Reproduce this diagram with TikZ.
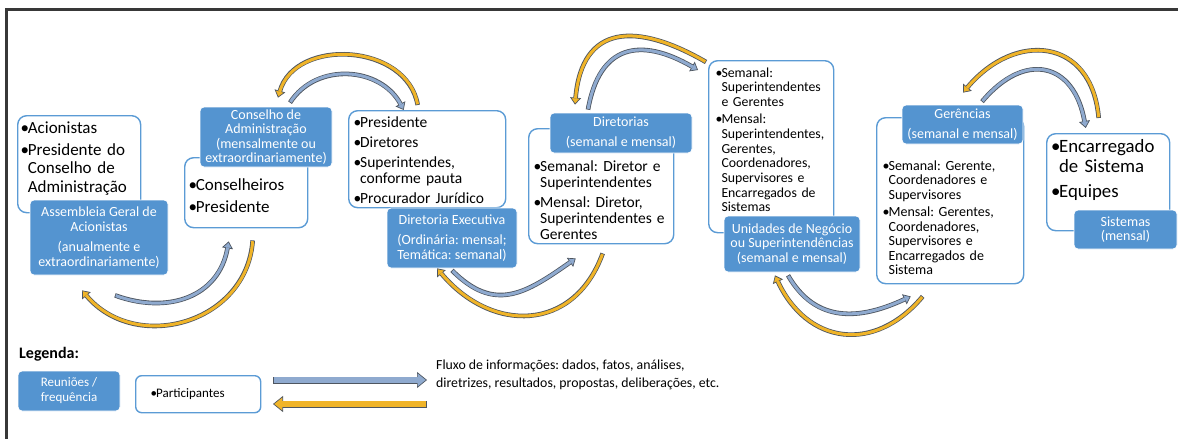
\documentclass[tikz,border=0pt]{standalone}
\usepackage{fontspec}
\setmainfont{Carlito}
\usetikzlibrary{arrows.meta}
\frenchspacing

% one bullet item with its text hanging under the first word
\newcommand\point[1]{\hangindent=0.42em\hangafter=1\noindent\makebox[0.42em][l]{\textbullet}#1\par}

% curved flow arrow: dark edge first, then the colour inside it
\newcommand\flowarc[2]{%
  \draw[line width=4.6pt, arrowEdge, -{Triangle[width=11pt,length=7pt,line width=0.7pt,fill=#1]}] #2;
  \draw[line width=3pt, draw=#1, shorten <=0.8pt, shorten >=6.2pt] #2;
}
% straight (wider) flow arrow for the key
\newcommand\flowbar[2]{%
  \draw[line width=7pt, arrowEdge, -{Triangle[width=16pt,length=10pt,line width=0.7pt,fill=#1]}] #2;
  \draw[line width=5.6pt, draw=#1, shorten <=0.7pt, shorten >=9.2pt] #2;
}

\tikzset{
  meeting/.style={rectangle, rounded corners=4pt, fill=meetColour, draw=white, line width=0.75pt,
    text=white, align=center, inner sep=0pt, font=\fontsize{14}{14.5}\selectfont},
  members/.style={rectangle, rounded corners=9pt, draw=memberEdge, line width=1.4pt, fill=white,
    anchor=north west, inner sep=0pt},
  itemlist/.style n args={4}{anchor=base west, inner sep=0pt, text width=#1, align=left,
    font=\fontsize{#2}{#3}\selectfont, execute at begin node={\setlength{\parskip}{#4}}},
}

\begin{document}
\begin{tikzpicture}[x=1pt, y=1pt]
    \definecolor{meetColour}{HTML}{5494D0}
    \definecolor{memberEdge}{HTML}{5B9BD5}
    \definecolor{downFlow}{HTML}{8FAACF}
    \definecolor{upFlow}{HTML}{F0B428}
    \definecolor{arrowEdge}{HTML}{4E5660}
    \definecolor{frameColour}{HTML}{383838}

    % Page size
    \useasboundingbox (0,0) rectangle (1178,-439);

    % Frame, only top and left edges are in view
    \draw[frameColour, line width=2.6pt] (6.3,-439) -- (6.3,-9.7) -- (1178,-9.7);

    % Participant boxes
    \node[members, minimum width=123pt, minimum height=97pt] (acionistas) at (17,-115) {};
    \node[members, minimum width=123pt, minimum height=70pt] (conselheiros) at (184,-157) {};
    \node[members, minimum width=157pt, minimum height=97pt] (executivos) at (348,-110) {};
    \node[members, minimum width=145pt, minimum height=115pt] (diretores) at (528,-128) {};
    \node[members, minimum width=125pt, minimum height=172pt] (superintendentes) at (708,-60) {};
    \node[members, minimum width=147pt, minimum height=166pt] (gerentes) at (876,-117) {};
    \node[members, minimum width=123pt, minimum height=97pt] (encarregados) at (1046,-133) {};

    % Participant lists
    \node[itemlist={130pt}{17}{18.5}{3.5pt}] (acionistastxt) at (20.5,-133)
        {\point{Acionistas}\point{Presidente do\newline Conselho de\newline Administração}};
    \node[itemlist={120pt}{17}{18.5}{3.5pt}] (conselheirostxt) at (188.5,-190)
        {\point{Conselheiros}\point{Presidente}};
    \node[itemlist={160pt}{15.5}{15.5}{4.5pt}] (executivostxt) at (353.5,-127.7)
        {\point{Presidente}\point{Diretores}\point{Superintendes,\newline conforme pauta}\point{Procurador Jurídico}};
    \node[itemlist={150pt}{15.5}{15.8}{4.2pt}] (diretorestxt) at (533.5,-171.7)
        {\point{Semanal: Diretor e\newline Superintendentes}\point{Mensal: Diretor,\newline Superintendentes e\newline Gerentes}};
    \node[itemlist={125pt}{13.8}{14.7}{2.3pt}] (superintendentestxt) at (715.5,-77.2)
        {\point{Semanal:\newline Superintendentes\newline e Gerentes}\point{Mensal:\newline Superintendentes,\newline Gerentes,\newline Coordenadores,\newline Supervisores e\newline Encarregados de\newline Sistemas}};
    \node[itemlist={145pt}{14}{14.6}{2.4pt}] (gerentestxt) at (882.5,-170.2)
        {\point{Semanal: Gerente,\newline Coordenadores e\newline Supervisores}\point{Mensal: Gerentes,\newline Coordenadores,\newline Supervisores e\newline Encarregados de\newline Sistema}};
    \node[itemlist={125pt}{18.8}{20}{5pt}] (encarregadostxt) at (1051,-152.6)
        {\point{Encarregado\newline de Sistema}\point{Equipes}};

    % Meetings and how often they happen
    \node[meeting, minimum width=138pt, minimum height=75pt] (assembleia) at (99,-237.5)
        {Assembleia Geral de\\Acionistas\\[6pt](anualmente e\\extraordinariamente)};
    \node[meeting, minimum width=132pt, minimum height=60pt] (conselho) at (266,-137)
        {Conselho de\\Administração\\(mensalmente ou\\extraordinariamente)};
    \node[meeting, minimum width=130pt, minimum height=60pt] (diretoria) at (452,-238)
        {Diretoria Executiva\\[5.5pt](Ordinária: mensal;\\Temática: semanal)};
    \node[meeting, minimum width=142pt, minimum height=40pt] (diretorias) at (621,-133)
        {Diretorias\\[5.5pt](semanal e mensal)};
    \node[meeting, minimum width=136pt, minimum height=56pt] (unidades) at (792,-244)
        {Unidades de Negócio\\ou Superintendências\\(semanal e mensal)};
    \node[meeting, minimum width=121pt, minimum height=39pt] (gerencias) at (962.5,-124.5)
        {Gerências\\[5.5pt](semanal e mensal)};
    \node[meeting, minimum width=103pt, minimum height=39pt] (sistemas) at (1125.5,-229.5)
        {Sistemas\\(mensal)};

    % Flows between the levels: blue goes down, yellow comes back up
    \flowarc{downFlow}{([shift={(16,-20)}]assembleia.south) to[out=-20,in=-100,looseness=1.15] ([shift={(-17.5,-13)}]conselheiros.south)}
    \flowarc{upFlow}{([shift={(6.5,-12)}]conselheiros.south) to[out=-94,in=-50,looseness=1.2] ([shift={(-17,-15)}]assembleia.south)}

    \flowarc{downFlow}{([shift={(24,4)}]conselho.north) to[out=57,in=118,looseness=1.1] ([shift={(-23.5,0)}]executivos.north)}
    \flowarc{upFlow}{([shift={(-9.5,5)}]executivos.north) to[out=100,in=74,looseness=1.15] ([shift={(12,9)}]conselho.north)}

    \flowarc{downFlow}{([shift={(0,-2)}]diretoria.south) to[out=-45,in=-145,looseness=1.25] ([shift={(-25.5,-14)}]diretores.south)}
    \flowarc{upFlow}{([shift={(1.5,-9)}]diretores.south) to[out=-110,in=-50,looseness=1.3] ([shift={(-15,0)}]diretoria.south)}

    \flowarc{downFlow}{([shift={(-33,3)}]diretorias.north) to[out=80,in=150,looseness=1.45] ([shift={(-10,-10)}]superintendentes.north west)}
    \flowarc{upFlow}{([shift={(-2,-2)}]superintendentes.north west) to[out=150,in=85,looseness=1.5] ([shift={(-46,8)}]diretorias.north)}

    \flowarc{downFlow}{([shift={(-4,-3)}]unidades.south) to[out=-60,in=-155,looseness=1.15] ([shift={(-39.5,-12)}]gerentes.south)}
    \flowarc{upFlow}{([shift={(-27.5,-12)}]gerentes.south) to[out=-130,in=-65,looseness=1.3] ([shift={(-17,-3)}]unidades.south)}

    \flowarc{downFlow}{([shift={(19.5,3)}]gerencias.north) to[out=50,in=100,looseness=1.6] ([shift={(-22.5,5)}]encarregados.north)}
    \flowarc{upFlow}{([shift={(-9.5,15)}]encarregados.north) to[out=95,in=50,looseness=1.5] ([shift={(0.5,12)}]gerencias.north)}

    % Key
    \node[anchor=base west, inner sep=0pt, font=\fontsize{16}{18}\selectfont\bfseries] (legenda) at (19,-358) {Legenda:};
    \node[meeting, minimum width=102pt, minimum height=40pt, font=\fontsize{13}{15}\selectfont] (keymeeting) at (69,-391)
        {Reuniões /\\frequência};
    \node[members, rounded corners=6pt, minimum width=125pt, minimum height=37pt] (keymembers) at (135,-375) {};
    \node[itemlist={110pt}{13}{15}{0pt}] (keymemberstxt) at (150.5,-397.5) {\point{Participantes}};

    \coordinate (flowleft) at (273,-380);
    \coordinate (flowright) at (427,-380);
    \flowbar{downFlow}{(flowleft) -- (flowright)}
    \flowbar{upFlow}{([yshift=-24pt]flowright) -- ([yshift=-24pt]flowleft)}

    \node[anchor=base west, inner sep=0pt, align=left, font=\fontsize{13.8}{17.5}\selectfont] (keyflow) at (436,-387)
        {Fluxo de informações: dados, fatos, análises,\\diretrizes, resultados, propostas, deliberações, etc.};

\end{tikzpicture}
\end{document}
